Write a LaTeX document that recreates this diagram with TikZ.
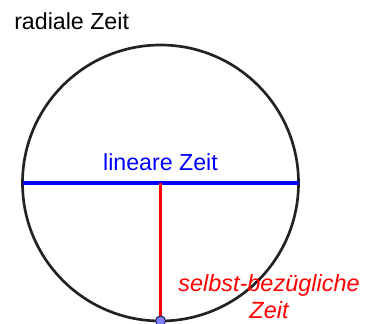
\documentclass[tikz,border=0pt]{standalone}
\usepackage{fontspec}
\setmainfont{Liberation Sans}
\tikzset{
  zeitlabel/.style={inner sep=0pt, font=\fontsize{17.4}{20.5}\selectfont},
  kreislinie/.style={line width=2pt, draw={rgb,255:red,34;green,34;blue,34}},
  linearlinie/.style={line width=2.4pt, draw=blue},
  eigenlinie/.style={line width=1.6pt, draw=red},
  punkt/.style={circle, inner sep=0pt, minimum size=7.5pt, line width=0.8pt,
    draw={rgb,255:red,30;green,30;blue,90}, fill={rgb,255:red,130;green,130;blue,255}}
}
\begin{document}
\begin{tikzpicture}[x=0.75pt,y=-0.75pt]
  \useasboundingbox (0,0) rectangle (365,324);
  % Kreis und Linien
  \coordinate (M) at (160.5,183);
  \coordinate (L) at (22.5,183);
  \coordinate (R) at (298.5,183);
  \coordinate (U) at (160.5,321);
  \draw [kreislinie] (M) circle (103.5pt);
  \draw [linearlinie] (L) -- (R);
  \draw [eigenlinie] (M) -- (U);
  \node [punkt] (p) at (U) {};
  % Beschriftungen
  \node [zeitlabel, anchor=base west] (radial) at (14,30) {radiale Zeit};
  \node [zeitlabel, anchor=base, text=blue] (linear) at (160.5,171) {lineare Zeit};
  \node [zeitlabel, anchor=base, text=red, align=center, font=\fontsize{17.6}{20.3}\selectfont\itshape] (selbst) at (269,319) {selbst-bezügliche\\Zeit};
\end{tikzpicture}
\end{document}
